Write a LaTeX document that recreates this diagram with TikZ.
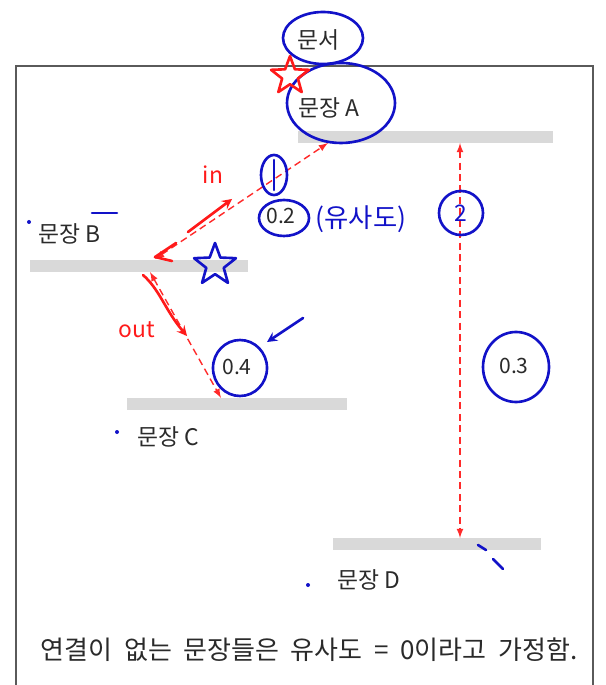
\documentclass[tikz,border=0pt]{standalone}
\usepackage{fontspec}
\setmainfont{Noto Sans CJK KR}
\usetikzlibrary{shapes.geometric}

\definecolor{barGray}{HTML}{D9D9D9}
\definecolor{frameGray}{HTML}{5A5A5A}
\definecolor{textGray}{HTML}{2A2A2A}
\definecolor{simRed}{HTML}{FF2A2A}
\definecolor{penRed}{HTML}{FF1A1A}
\definecolor{penBlue}{HTML}{1212C8}

\tikzset{
  frame/.style={draw=frameGray, line width=1.1pt},
  sentbar/.style={fill=barGray, inner sep=0pt, minimum height=0.24cm},
  sentlabel/.style={anchor=west, inner sep=0pt, text=textGray, font=\fontsize{13}{15}\selectfont},
  weight/.style={inner sep=0pt, text=textGray, font=\fontsize{12}{14}\selectfont},
  simedge/.style={draw=simRed, dashed, line width=0.8pt, dash pattern=on 4pt off 2.5pt, <->, >=latex},
  bluepen/.style={draw=penBlue, line width=1.5pt, line cap=round, line join=round},
  redpen/.style={draw=penRed, line width=1.5pt, line cap=round, line join=round},
  handtext/.style={inner sep=0pt, font=\fontsize{13}{15}\selectfont}
}

\begin{document}
\begin{tikzpicture}[x=0.02cm, y=-0.02cm]
  \useasboundingbox (0,0) rectangle (605,685);

  % Draw slide frame
  \draw[frame] (16,685) -- (16,66) -- (593,66) -- (593,685);

  % Sentence bars
  \foreach \n/\x/\y/\w in {A/425/137/255, B/139/266/218, C/237/404/220, D/437/544/208} {
    \node[sentbar, minimum width=\w*0.02cm] (bar\n) at (\x,\y) {};
  }

  % Labels
  \node[sentlabel] (doc) at (297,40) {문서};
  \node[sentlabel] (labA) at (298,108) {문장 A};
  \node[sentlabel] (labB) at (38,234) {문장 B};
  \node[sentlabel] (labC) at (137,437) {문장 C};
  \node[sentlabel] (labD) at (337,580) {문장 D};
  \node[sentlabel, anchor=center, font=\fontsize{14.8}{17}\selectfont] (note) at (309,650)
    {연결이\ \ 없는\ \ 문장들은\ \ 유사도\ \ =\ \ 0이라고\ \ 가정함.};

  % Similarity edges
  \coordinate (bTop) at (155,259);
  \coordinate (aLeft) at (328,143);
  \coordinate (bBot) at (150,272);
  \coordinate (cTop) at (221,398);
  \coordinate (aRight) at (460,143);
  \coordinate (dTop) at (460,538);
  \draw[simedge] (bTop) -- (aLeft);
  \draw[simedge] (bBot) -- (cTop);
  \draw[simedge] (aRight) -- (dTop);

  % Weights
  \node[weight] (wAB) at (281,216) {0.2};
  \node[weight] (wBC) at (237,367) {0.4};
  \node[weight] (wAD) at (514,366) {0.3};

  % Pen notes (blue)
  \draw[bluepen] (323,38) ellipse [x radius=40, y radius=26];
  \draw[bluepen] (341,103) ellipse [x radius=54, y radius=40];
  \draw[bluepen] (274,175) ellipse [x radius=13, y radius=20];
  \draw[bluepen] (274,160) -- (274,190);
  \draw[bluepen] (284,218) ellipse [x radius=25, y radius=18];
  \node[handtext, text=penBlue, font=\fontsize{15}{17}\selectfont] (simword) at (361,219) {(유사도)};
  \draw[bluepen] (461,213) circle [radius=22];
  \node[handtext, text=penBlue] (two) at (461,213) {2};
  \node[star, star points=5, star point ratio=2.4, minimum size=0.88cm, bluepen] (bstar) at (215,265) {};
  \draw[bluepen] (240,368) ellipse [x radius=27, y radius=28];
  \draw[bluepen] (516,367) ellipse [x radius=33, y radius=35];
  \coordinate (penTail) at (303,318);
  \coordinate (penHead) at (267,342);
  \draw[bluepen, ->, >=stealth] (penTail) -- (penHead);
  \draw[bluepen] (92,213) -- (117,213);
  \foreach \x/\y in {29/222, 117/432, 308/585}
    \fill[penBlue] (\x,\y) circle [radius=2];
  \draw[bluepen] (478,545) -- (486,550);
  \draw[bluepen] (493,559) -- (503,569);

  % Pen notes (red)
  \node[star, star points=5, star point ratio=2.4, minimum size=0.4cm, redpen] (rstar) at (290,76) {};
  \node[handtext, text=penRed] (inword) at (213,175) {in};
  \coordinate (inTail) at (188,232);
  \coordinate (inHead) at (232,199);
  \draw[redpen, ->, >=stealth] (inTail) -- (inHead);
  \draw[redpen] (176,243) -- (155,257) -- (172,261);
  \node[handtext, text=penRed] (outword) at (137,330) {out};
  \coordinate (outTail) at (143,275);
  \coordinate (outHead) at (187,336);
  \draw[redpen, ->, >=stealth] (outTail) .. controls (160,290) and (165,310) .. (outHead);
\end{tikzpicture}
\end{document}
